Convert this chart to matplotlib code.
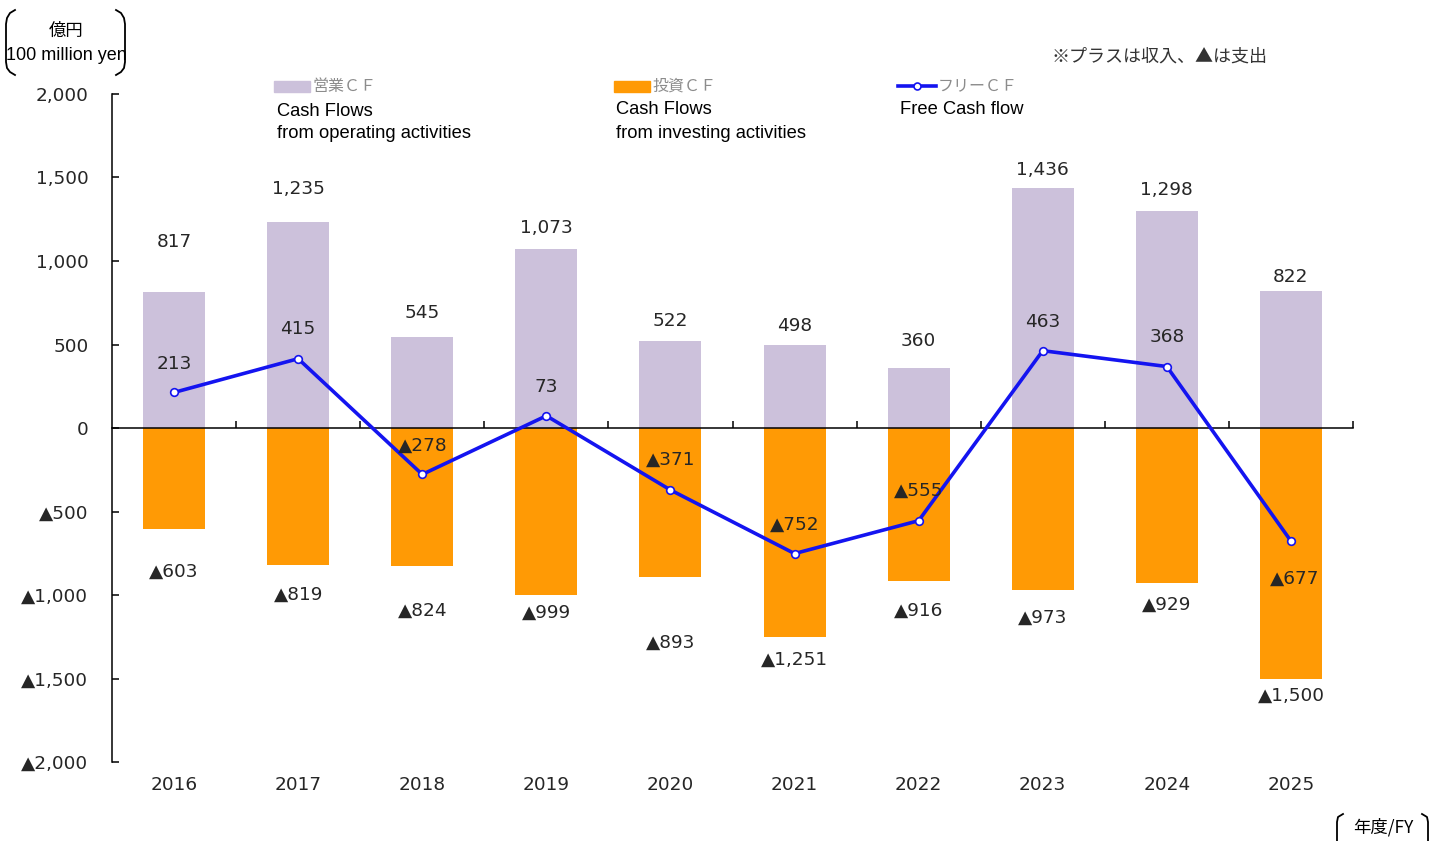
import matplotlib.pyplot as plt
from matplotlib.lines import Line2D
from matplotlib.patches import Rectangle
from matplotlib.ticker import FuncFormatter, FixedLocator

# Cash flow data (100 million yen), ▲ = negative
years = ['2016', '2017', '2018', '2019', '2020', '2021', '2022', '2023', '2024', '2025']
operating_cf = [817, 1235, 545, 1073, 522, 498, 360, 1436, 1298, 822]
investing_cf = [-603, -819, -824, -999, -893, -1251, -916, -973, -929, -1500]
free_cf = [213, 415, -278, 73, -371, -752, -555, 463, 368, -677]

# where the value labels sit (data units), placed by hand like in the original
op_label_y = [1114, 1431, 689, 1198, 641, 611, 521, 1545, 1425, 904]
inv_label_y = [-862, -1000, -1096, -1108, -1287, -1389, -1096, -1138, -1060, -1605]
fcf_label_y = [383, 593, -108, 246, -192, -581, -377, 635, 545, -904]

yticks = [-2000, -1500, -1000, -500, 0, 500, 1000, 1500, 2000]

c_op = '#CCC1DB'
c_inv = '#FF9A05'
c_fcf = '#1414F0'
c_txt = '#262626'

W, H = 1430, 841


def px(x, y):
    # pixel position -> figure fraction
    return x / W, 1 - y / H


def fmt(v):
    if v < 0:
        return '\u25B2{:,}'.format(-v)
    return '{:,}'.format(v)


plt.rcParams['font.family'] = ['DejaVu Sans']
fig = plt.figure(figsize=(14.3, 8.41), dpi=100)
l, b = px(112, 762)
r, t = px(1353, 94)
ax = fig.add_axes([l, b, r - l, t - b])

x = list(range(len(years)))
ax.bar(x, operating_cf, width=0.5, color=c_op, zorder=2)
ax.bar(x, investing_cf, width=0.5, color=c_inv, zorder=2)
ax.plot(x, free_cf, color=c_fcf, lw=2.6, marker='o', ms=5.5,
        mfc='white', mec=c_fcf, mew=1.2, zorder=4)

ax.set_xlim(-0.5, len(years) - 0.5)
ax.set_ylim(-2000, 2000)

# spines
for s in ['top', 'right']:
    ax.spines[s].set_visible(False)
ax.spines['bottom'].set_position(('data', 0))
ax.spines['bottom'].set_zorder(3)
ax.spines['bottom'].set_linewidth(1.1)
ax.spines['left'].set_linewidth(1.1)

# category boundary ticks on the zero line, pointing up
ax.xaxis.set_major_locator(FixedLocator([i + 0.5 for i in x]))
ax.tick_params(axis='x', direction='in', length=5, width=1.1, labelbottom=False)
ax.set_yticks(yticks)
ax.yaxis.set_major_formatter(FuncFormatter(lambda v, p: fmt(int(v))))
ax.tick_params(axis='y', direction='in', length=5, width=1.1, pad=17,
               labelsize=13.3, labelcolor=c_txt)

# year labels below the plot
for i, yr in enumerate(years):
    ax.text(i, -0.034, yr, transform=ax.get_xaxis_transform(), ha='center', va='center',
            fontsize=13.3, color=c_txt)

# value labels
for i in x:
    ax.text(i, op_label_y[i], fmt(operating_cf[i]), ha='center', va='center',
            fontsize=13.3, color=c_txt, zorder=5)
    ax.text(i, inv_label_y[i], fmt(investing_cf[i]), ha='center', va='center',
            fontsize=13.3, color=c_txt, zorder=5)
    ax.text(i + (0.03 if i == 9 else 0), fcf_label_y[i], fmt(free_cf[i]), ha='center',
            va='center', fontsize=13.3, color=c_txt, zorder=5)

# legend drawn by hand at the top
jp = ['Noto Sans CJK JP', 'DejaVu Sans']
en = 'Liberation Sans'
x0, y0 = px(274, 92)
x1, y1 = px(310, 81)
fig.patches.append(Rectangle((x0, y0), x1 - x0, y1 - y0, transform=fig.transFigure,
                             color=c_op, figure=fig))
x0, y0 = px(614, 92)
x1, y1 = px(650, 81)
fig.patches.append(Rectangle((x0, y0), x1 - x0, y1 - y0, transform=fig.transFigure,
                             color=c_inv, figure=fig))
lx0, ly = px(898, 86)
lx1, _ = px(936, 86)
fig.lines.append(Line2D([lx0, lx1], [ly, ly], transform=fig.transFigure, color=c_fcf, lw=2.6))
fig.lines.append(Line2D([(lx0 + lx1) / 2], [ly], transform=fig.transFigure, marker='o', ms=5,
                        mfc='white', mec=c_fcf, mew=1.2, color=c_fcf))

fig.text(*px(312, 86), '営業ＣＦ', family=jp, fontsize=11.5, color='#8c8c8c', va='center')
fig.text(*px(652, 86), '投資ＣＦ', family=jp, fontsize=11.5, color='#8c8c8c', va='center')
fig.text(*px(938, 86), 'フリーＣＦ', family=jp, fontsize=11.5, color='#8c8c8c', va='center')
fig.text(*px(277, 111), 'Cash Flows', family=en, fontsize=13.2, color='black', va='center')
fig.text(*px(277, 133), 'from operating activities', family=en, fontsize=13.2, color='black', va='center')
fig.text(*px(616, 110), 'Cash Flows', family=en, fontsize=13.2, color='black', va='center')
fig.text(*px(616, 133), 'from investing activities', family=en, fontsize=13.2, color='black', va='center')
fig.text(*px(900, 110), 'Free Cash flow', family=en, fontsize=13.2, color='black', va='center')

fig.text(*px(1160, 57), '※プラスは収入、▲は支出', family=jp, fontsize=13, color='#333333',
         ha='center', va='center')

# unit box, top left
fig.text(*px(66, 31), '億円', family=jp, fontsize=12.5, color='black', ha='center', va='center')
fig.text(*px(66, 56), '100 million yen', family=en, fontsize=13, color='black', ha='center', va='center')


def bracket(pts):
    xs, ys = zip(*[px(a, c) for a, c in pts])
    fig.lines.append(Line2D(xs, ys, transform=fig.transFigure, color='black', lw=1.3))


bracket([(15, 10), (10, 13), (7, 18), (6, 24), (6, 62), (7, 68), (10, 72), (15, 75)])
bracket([(116, 10), (121, 13), (124, 18), (125, 24), (125, 62), (124, 68), (121, 72), (116, 75)])

# FY label, bottom right
fig.text(*px(1383, 827), '年度/FY', family=jp, fontsize=12.5, color='black', ha='center', va='center')
bracket([(1343, 814), (1338, 817), (1337, 822), (1337, 841)])
bracket([(1422, 814), (1427, 817), (1428, 822), (1428, 841)])

fig.savefig('out.png', dpi=100)
